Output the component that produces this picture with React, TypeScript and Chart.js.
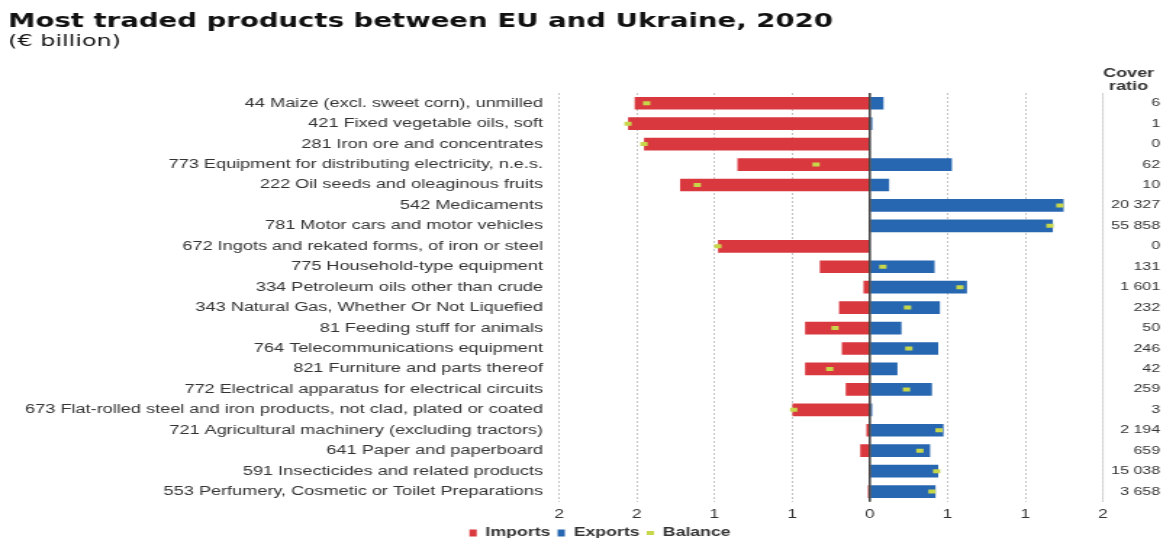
import React, { useEffect, useRef } from 'react';
import { Chart, registerables } from 'chart.js';

Chart.register(...registerables);

// ---------- data ----------
const TITLE = 'Most traded products between EU and Ukraine, 2020';
const SUBTITLE = '(€ billion)';
const COVER_HEADER = ['Cover', 'ratio'];

const PRODUCTS = [
  '44 Maize (excl. sweet corn), unmilled',
  '421 Fixed vegetable oils, soft',
  '281 Iron ore and concentrates',
  '773 Equipment for distributing electricity, n.e.s.',
  '222 Oil seeds and oleaginous fruits',
  '542 Medicaments',
  '781 Motor cars and motor vehicles',
  '672 Ingots and rekated forms, of iron or steel',
  '775 Household-type equipment',
  '334 Petroleum oils other than crude',
  '343 Natural Gas, Whether Or Not Liquefied',
  '81 Feeding stuff for animals',
  '764 Telecommunications equipment',
  '821 Furniture and parts thereof',
  '772 Electrical apparatus for electrical circuits',
  '673 Flat-rolled steel and iron products, not clad, plated or coated',
  '721 Agricultural machinery (excluding tractors)',
  '641 Paper and paperboard',
  '591 Insecticides and related products',
  '553 Perfumery, Cosmetic or Toilet Preparations',
];

const IMPORTS = [
  -1.513, -1.556, -1.453, -0.852, -1.221, -0.006, -0.002, -0.977, -0.322, -0.041,
  -0.198, -0.417, -0.18, -0.417, -0.155, -0.498, -0.022, -0.062, -0.003, -0.012,
];

const EXPORTS = [
  0.088, 0.016, 0.0, 0.528, 0.124, 1.247, 1.178, 0.0, 0.417, 0.625,
  0.451, 0.204, 0.44, 0.178, 0.4, 0.015, 0.474, 0.388, 0.44, 0.423,
];

const BALANCE = [
  -1.436, -1.556, -1.453, -0.346, -1.11, 1.223, 1.159, -0.977, 0.084, 0.58,
  0.243, -0.224, 0.251, -0.258, 0.236, -0.49, 0.445, 0.322, 0.43, 0.4,
];

const COVER_RATIO = [
  '6', '1', '0', '62', '10', '20 327', '55 858', '0', '131', '1 601',
  '232', '50', '246', '42', '259', '3', '2 194', '659', '15 038', '3 658',
];

const X_TICK_VALUES = [-2, -1.5, -1, -0.5, 0, 0.5, 1, 1.5];
const X_TICK_LABELS = ['2', '2', '1', '1', '0', '1', '1', '2'];

const SERIES_NAMES = ['Imports', 'Exports', 'Balance'];

// ---------- styling ----------
const CW = 811;
const CH = 549;
const STRETCH = 1176 / CW;
const RED = '#D9383F';
const BLUE = '#2767B1';
const GREEN = '#C8D64A';
const TEXT = '#333333';
const SANS = '"Liberation Sans", Arial, sans-serif';
const WIDE = '"DejaVu Sans", sans-serif';
const PLOT_LEFT = 385.5;
const PLOT_RIGHT = 760.6;
const LEGEND_CENTER = 413.8;

const overlayPlugin = {
  id: 'overlay',
  afterLayout(chart: any) {
    // centre the legend row under the plot like the original layout
    const lg = chart.legend;
    if (lg) {
      const d = LEGEND_CENTER - (lg.left + lg.right) / 2;
      lg.left += d;
      lg.right += d;
    }
  },
  afterDatasetsDraw(chart: any) {
    const { ctx, chartArea, scales } = chart;
    const x0 = scales.x.getPixelForValue(0);
    ctx.save();
    ctx.strokeStyle = '#3a3a3a';
    ctx.lineWidth = 1.5;
    ctx.beginPath();
    ctx.moveTo(x0, chartArea.top);
    ctx.lineTo(x0, chartArea.bottom);
    ctx.stroke();
    ctx.restore();
  },
  afterDraw(chart: any) {
    const { ctx, chartArea, scales } = chart;
    ctx.save();
    // title + subtitle
    ctx.fillStyle = '#111111';
    ctx.textAlign = 'left';
    ctx.textBaseline = 'alphabetic';
    ctx.font = `bold 19px ${WIDE}`;
    ctx.fillText(TITLE, 5.5, 27);
    ctx.font = `16.5px ${WIDE}`;
    ctx.fillText(SUBTITLE, 5.5, 46);

    // separator line before cover ratio column
    ctx.strokeStyle = '#d2d2d2';
    ctx.lineWidth = 1;
    ctx.beginPath();
    ctx.moveTo(chartArea.right, chartArea.top);
    ctx.lineTo(chartArea.right, chartArea.bottom);
    ctx.stroke();

    // cover ratio header
    ctx.fillStyle = TEXT;
    ctx.textAlign = 'center';
    ctx.textBaseline = 'middle';
    ctx.font = `bold 12.4px ${SANS}`;
    ctx.fillText(COVER_HEADER[0], 778.3, 74);
    ctx.fillText(COVER_HEADER[1], 778.3, 87);

    // cover ratio values
    ctx.textAlign = 'right';
    ctx.font = `11px ${SANS}`;
    COVER_RATIO.forEach((v, i) => {
      ctx.fillText(v, 800, scales.y.getPixelForValue(i));
    });
    ctx.restore();
  },
};

export default function App() {
  const ref = useRef<HTMLCanvasElement>(null);

  useEffect(() => {
    const canvas = ref.current;
    if (!canvas) return;
    const chart = new Chart(canvas, {
      type: 'bar',
      data: {
        labels: PRODUCTS,
        datasets: [
          {
            label: SERIES_NAMES[0],
            data: IMPORTS,
            backgroundColor: RED,
            borderWidth: 0,
            stack: 'trade',
            barPercentage: 0.62,
            categoryPercentage: 1,
            pointStyle: 'rect',
            order: 1,
          } as any,
          {
            label: SERIES_NAMES[1],
            data: EXPORTS,
            backgroundColor: BLUE,
            borderWidth: 0,
            stack: 'trade',
            barPercentage: 0.62,
            categoryPercentage: 1,
            pointStyle: 'rect',
            order: 1,
          } as any,
          {
            type: 'line',
            label: SERIES_NAMES[2],
            data: BALANCE,
            showLine: false,
            stack: 'balance',
            borderColor: GREEN,
            backgroundColor: GREEN,
            borderWidth: 4,
            pointStyle: 'line',
            pointRadius: 2.5,
            pointBorderWidth: 4,
            pointBorderColor: GREEN,
            pointBackgroundColor: GREEN,
            order: 0,
          } as any,
        ],
      },
      options: {
        indexAxis: 'y',
        responsive: false,
        animation: false,
        events: [],
        layout: { padding: { top: 93, right: CW - PLOT_RIGHT, bottom: 0, left: 0 } },
        scales: {
          x: {
            type: 'linear',
            min: -2,
            max: 1.5,
            stacked: false,
            afterBuildTicks: (s: any) => {
              s.ticks = X_TICK_VALUES.map((v) => ({ value: v }));
            },
            afterFit: (s: any) => {
              s.height = 20;
            },
            grid: { color: '#c4c4c4', lineWidth: 1, drawTicks: false },
            border: { display: false, dash: [2, 2] },
            ticks: {
              autoSkip: false,
              maxRotation: 0,
              padding: 6,
              color: TEXT,
              font: { family: SANS, size: 12 },
              callback: (_v: any, i: number) => X_TICK_LABELS[i] ?? '',
            },
          },
          y: {
            type: 'category',
            stacked: true,
            afterFit: (s: any) => {
              s.width = PLOT_LEFT;
            },
            grid: { display: false, drawTicks: false },
            border: { display: false },
            ticks: {
              autoSkip: false,
              padding: 11,
              color: TEXT,
              font: { family: SANS, size: 12.5 },
            },
          },
        },
        plugins: {
          legend: {
            position: 'bottom',
            labels: {
              usePointStyle: true,
              pointStyleWidth: 5,
              boxHeight: 7,
              padding: 5,
              color: TEXT,
              font: { family: SANS, size: 12.2, weight: 'bold' },
              sort: (a: any, b: any) => a.datasetIndex - b.datasetIndex,
            },
          },
          tooltip: { enabled: false },
          title: { display: false },
        },
      } as any,
      plugins: [overlayPlugin],
    });
    return () => chart.destroy();
  }, []);

  return (
    <div
      style={{
        position: 'fixed',
        left: 0,
        top: 0,
        width: 1176,
        height: 538,
        overflow: 'hidden',
        background: '#ffffff',
      }}
    >
      <canvas
        ref={ref}
        width={CW}
        height={CH}
        style={{
          display: 'block',
          width: CW,
          height: CH,
          transform: `scaleX(${STRETCH})`,
          transformOrigin: '0 0',
        }}
      />
    </div>
  );
}
